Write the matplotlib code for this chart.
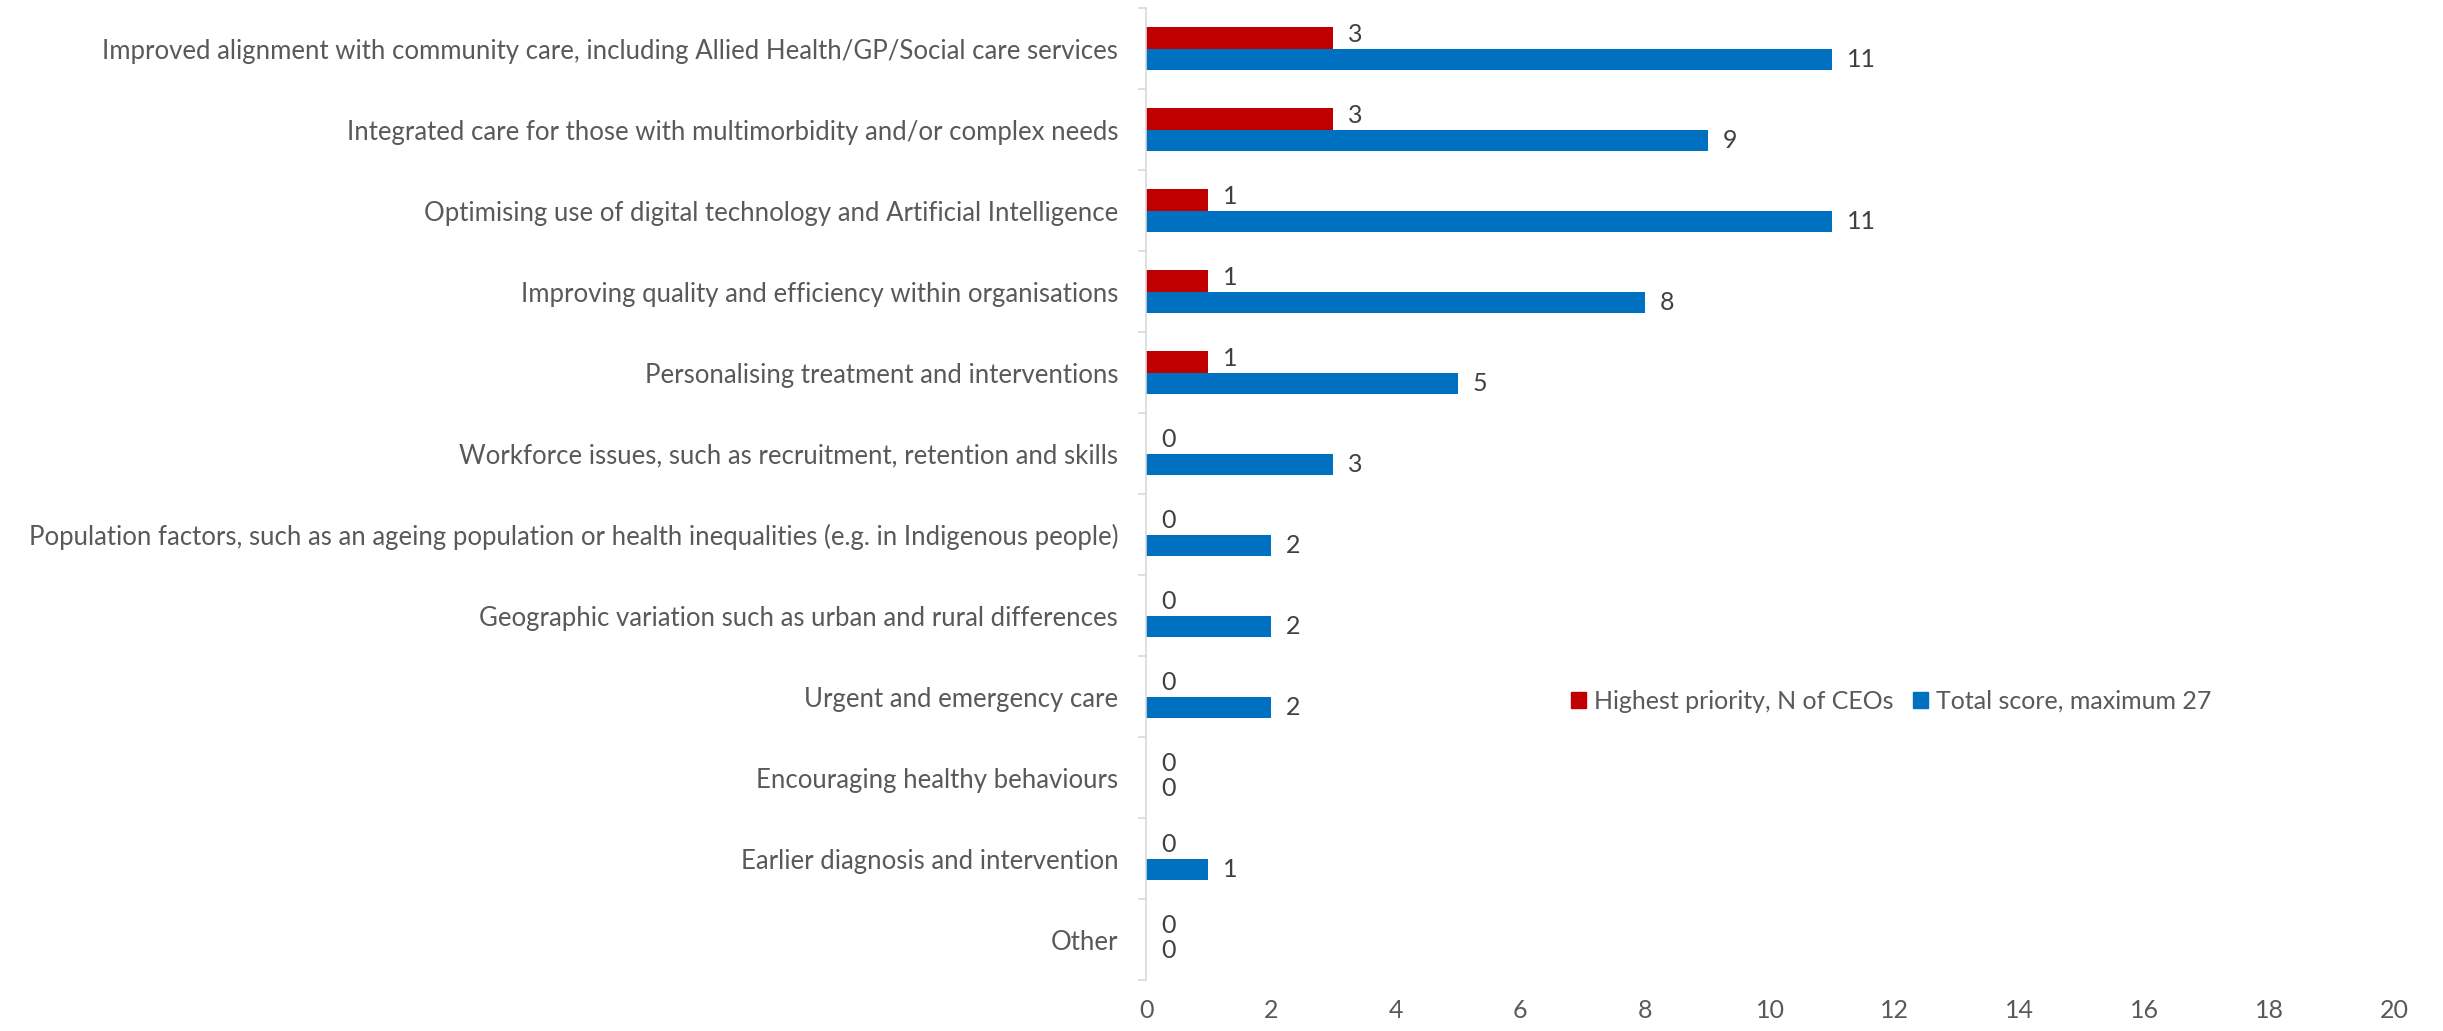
import numpy as np
import matplotlib.pyplot as plt
from matplotlib.patches import Patch

categories = [
    'Improved alignment with community care, including Allied Health/GP/Social care services',
    'Integrated care for those with multimorbidity and/or complex needs',
    'Optimising use of digital technology and Artificial Intelligence',
    'Improving quality and efficiency within organisations',
    'Personalising treatment and interventions',
    'Workforce issues, such as recruitment, retention and skills',
    'Population factors, such as an ageing population or health inequalities (e.g. in Indigenous people)',
    'Geographic variation such as urban and rural differences',
    'Urgent and emergency care',
    'Encouraging healthy behaviours',
    'Earlier diagnosis and intervention',
    'Other',
]
highest_priority = [3, 3, 1, 1, 1, 0, 0, 0, 0, 0, 0, 0]
total_score = [11, 9, 11, 8, 5, 3, 2, 2, 2, 0, 1, 0]
series_names = ['Highest priority, N of CEOs', 'Total score, maximum 27']

red = '#C00000'
blue = '#0070C0'
grey = '#595959'

plt.rcParams['font.family'] = ['Lato', 'DejaVu Sans']

W, H = 2443, 1031
fig = plt.figure(figsize=(W / 100, H / 100), dpi=100)
ax = fig.add_axes([1146 / W, 1 - 980 / H, (2394 - 1146) / W, (980 - 8) / H])

y = np.arange(len(categories))
h = 0.26
ax.barh(y - h / 2, highest_priority, height=h, color=red, label=series_names[0])
ax.barh(y + h / 2, total_score, height=h, color=blue, label=series_names[1])

ax.set_xlim(0, 20)
ax.set_ylim(len(categories) - 0.5, -0.5)
ax.set_xticks(range(0, 21, 2))

# labels next to the bar ends
for i in range(len(categories)):
    ax.annotate(str(highest_priority[i]), (highest_priority[i], y[i] - h / 2),
                xytext=(15, 3), textcoords='offset pixels', ha='left', va='center',
                fontsize=18, color='#404040')
    ax.annotate(str(total_score[i]), (total_score[i], y[i] + h / 2),
                xytext=(15, 0), textcoords='offset pixels', ha='left', va='center',
                fontsize=18, color='#404040')

ax.set_yticks(y)
ax.set_yticklabels(categories)
ax.set_yticks(np.arange(-0.5, len(categories), 1), minor=True)
ax.tick_params(axis='y', which='major', length=0, pad=20, labelsize=18.5, labelcolor=grey)
ax.tick_params(axis='y', which='minor', length=6, width=1.2, color='#d9d9d9')
ax.tick_params(axis='x', length=0, pad=14, labelsize=18, labelcolor=grey)

for s in ['top', 'right', 'bottom']:
    ax.spines[s].set_visible(False)
ax.spines['left'].set_color('#d9d9d9')
ax.spines['left'].set_linewidth(1.2)

handles = [Patch(color=red), Patch(color=blue)]
ax.legend(handles, series_names, loc='center', bbox_to_anchor=(0.597, 0.287), ncol=2,
          frameon=False, fontsize=18, labelcolor=grey, handlelength=0.6, handleheight=0.6,
          handletextpad=0.3, columnspacing=0.8)

fig.savefig('out.png', dpi=100)
